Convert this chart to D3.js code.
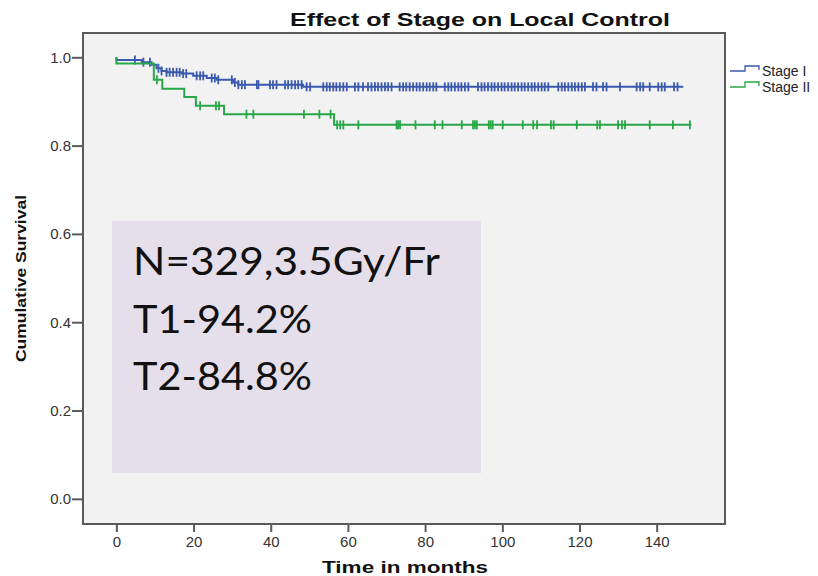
<!DOCTYPE html>
<html>
<head>
<meta charset="utf-8">
<script src="https://cdn.jsdelivr.net/npm/d3@7"></script>
<style>
  body { margin: 0; background: #fff; }
  svg { display: block; }
  .tick text { font-family: "Liberation Sans", Arial, sans-serif; font-size: 15px; fill: #333; }
</style>
</head>
<body>
<svg id="chart" width="818" height="576"></svg>
<script>
// Kaplan-Meier steps: [time (months), survival after event]
const stage1Events = [[0, 0.994], [6.6, 0.989], [9.1, 0.983], [10.4, 0.975], [11.7, 0.969], [13, 0.966],
  [16.9, 0.963], [19.9, 0.958], [23.4, 0.953], [26, 0.949], [30.3, 0.943], [31.6, 0.938], [48.4, 0.933]];
const stage1End = 146.9;
const stage1Censored = [4.8, 7.0, 8.7, 10.9, 11.7, 13.0, 13.8, 14.7, 15.6, 16.4, 17.3, 18.1, 20.8, 21.7, 22.5,
  24.7, 25.5, 26.4, 29.9, 30.7, 31.6, 32.5, 33.3, 36.4, 36.8, 39.8, 40.6, 41.5, 43.7, 44.5, 45.4, 46.3, 47.1,
  48.0, 49.3, 50.2, 53.6, 54.5, 55.3, 56.2, 57.0, 57.9, 58.8, 59.7, 61.8, 62.7, 63.9, 65.2, 66.1, 67.0, 67.8,
  68.7, 69.6, 70.4, 71.3, 73.4, 74.3, 75.1, 76.0, 76.9, 77.8, 78.6, 79.5, 80.4, 81.2, 82.1, 82.9, 85.1, 86.0,
  86.8, 87.7, 88.6, 89.4, 90.3, 91.2, 93.7, 94.6, 95.4, 96.3, 97.2, 98.0, 98.9, 99.8, 100.6, 101.5, 102.4,
  103.2, 104.1, 105.0, 105.8, 106.7, 107.6, 108.4, 109.3, 110.2, 111.0, 111.9, 114.5, 115.4, 116.2, 117.1,
  118.0, 118.8, 119.7, 120.6, 121.4, 123.5, 124.4, 126.1, 127.0, 130.5, 134.8, 135.7, 136.5, 138.2, 140.4,
  141.3, 142.1, 144.5, 145.4];

const stage2Events = [[0, 0.986], [9.7, 0.949], [11.9, 0.929], [17.6, 0.910], [20.6, 0.890], [27.9, 0.871],
  [56.4, 0.847]];
const stage2End = 149;
const stage2Censored = [10.5, 21.7, 25.8, 26.6, 33.7, 35.5, 48.6, 52.6, 55.5, 57.2, 58.0, 58.8, 62.7, 72.6,
  73.0, 73.5, 77.5, 82.5, 84.5, 89.5, 92.4, 92.9, 93.4, 96.5, 97.0, 97.5, 100.1, 105.3, 108, 109, 112.6, 113.3,
  119.3, 124.6, 125.3, 130, 131, 131.8, 138.2, 144.2, 148.6];

const seriesNames = ['Stage I', 'Stage II'];
const seriesColors = ['#3b5aae', '#27a747'];
const xTicks = [0, 20, 40, 60, 80, 100, 120, 140];
const yTicks = [0.0, 0.2, 0.4, 0.6, 0.8, 1.0];
const noteLines = ['N=329,3.5Gy/Fr', 'T1-94.2%', 'T2-84.8%'];

const series = [
  {name: seriesNames[0], color: seriesColors[0], events: stage1Events, end: stage1End, censored: stage1Censored},
  {name: seriesNames[1], color: seriesColors[1], events: stage2Events, end: stage2End, censored: stage2Censored},
];

const svg = d3.select('#chart');
const plot = {left: 83, top: 33, right: 725, bottom: 524};

const x = d3.scaleLinear().domain([-8.65, 157.7]).range([plot.left, plot.right]);
const y = d3.scaleLinear().domain([-0.057, 1.055]).range([plot.bottom, plot.top]);

// plot background
svg.append('rect')
  .attr('x', plot.left)
  .attr('y', plot.top)
  .attr('width', plot.right - plot.left)
  .attr('height', plot.bottom - plot.top)
  .attr('fill', '#f2f2f2');

// annotation box
const note = svg.append('g').attr('class', 'note');
note.append('rect')
  .attr('x', 112).attr('y', 221)
  .attr('width', 369).attr('height', 252)
  .attr('fill', '#e4dfeb');
note.selectAll('text')
  .data(noteLines)
  .enter()
  .append('text')
    .attr('x', 133)
    .attr('y', (d, i) => 275 + i * 57.5)
    .attr('textLength', (d, i) => i === 0 ? 307 : 179)
    .attr('lengthAdjust', 'spacingAndGlyphs')
    .attr('font-family', 'Lato, "Open Sans", sans-serif')
    .attr('font-size', 39)
    .attr('fill', '#111')
    .text((d) => d);

// survival value at time t for censor marks
function survivalAt(events, t) {
  let s = 1;
  events.forEach(([et, ev]) => { if (et <= t) s = ev; });
  return s;
}

const stepLine = d3.line()
  .x((d) => x(d[0]))
  .y((d) => y(d[1]))
  .curve(d3.curveStepAfter);

series.forEach((s) => {
  const last = s.events[s.events.length - 1][1];
  const pts = [[0, 1], ...s.events, [s.end, last]];
  const g = svg.append('g').attr('class', 'km');

  g.append('path')
    .attr('d', stepLine(pts))
    .attr('fill', 'none')
    .attr('stroke', s.color)
    .attr('stroke-width', 2);

  g.selectAll('line')
    .data(s.censored)
    .enter()
    .append('line')
      .attr('x1', (d) => x(d))
      .attr('x2', (d) => x(d))
      .attr('y1', (d) => y(survivalAt(s.events, d)) - 4.5)
      .attr('y2', (d) => y(survivalAt(s.events, d)) + 4.5)
      .attr('stroke', s.color)
      .attr('stroke-width', 1.8);
});

// frame
svg.append('rect')
  .attr('x', plot.left)
  .attr('y', plot.top)
  .attr('width', plot.right - plot.left)
  .attr('height', plot.bottom - plot.top)
  .attr('fill', 'none')
  .attr('stroke', '#5a5a5a')
  .attr('stroke-width', 2);

// axes
const yAxis = svg.append('g')
  .attr('transform', `translate(${plot.left},0)`)
  .call(d3.axisLeft(y).tickValues(yTicks).tickFormat(d3.format('.1f')).tickSize(11).tickPadding(1));
const xAxis = svg.append('g')
  .attr('transform', `translate(0,${plot.bottom})`)
  .call(d3.axisBottom(x).tickValues(xTicks).tickSize(8).tickPadding(4));

[yAxis, xAxis].forEach((ax) => {
  ax.select('.domain').remove();
  ax.selectAll('.tick line').attr('stroke', '#5a5a5a').attr('stroke-width', 2);
});

// titles
svg.append('text')
  .attr('x', 290).attr('y', 26)
  .attr('textLength', 380)
  .attr('lengthAdjust', 'spacingAndGlyphs')
  .attr('font-family', '"Liberation Sans", Arial, sans-serif')
  .attr('font-weight', 'bold')
  .attr('font-size', 18)
  .attr('fill', '#111')
  .text('Effect of Stage on Local Control');

svg.append('text')
  .attr('x', 322).attr('y', 573)
  .attr('textLength', 166)
  .attr('lengthAdjust', 'spacingAndGlyphs')
  .attr('font-family', '"Liberation Sans", Arial, sans-serif')
  .attr('font-weight', 'bold')
  .attr('font-size', 16)
  .attr('fill', '#111')
  .text('Time in months');

svg.append('text')
  .attr('transform', 'translate(26,362) rotate(-90)')
  .attr('textLength', 167)
  .attr('lengthAdjust', 'spacingAndGlyphs')
  .attr('font-family', '"Liberation Sans", Arial, sans-serif')
  .attr('font-weight', 'bold')
  .attr('font-size', 15)
  .attr('fill', '#111')
  .text('Cumulative Survival');

// legend
const legend = svg.append('g').attr('class', 'legend');
const legendItems = legend.selectAll('g')
  .data(series)
  .enter()
  .append('g')
    .attr('transform', (d, i) => `translate(730,${71 + i * 16})`);

legendItems.append('path')
  .attr('d', 'M0,0 H15 V-5 H29 V-1')
  .attr('fill', 'none')
  .attr('stroke', (d) => d.color)
  .attr('stroke-width', 1.3);

legendItems.append('text')
  .attr('x', 32)
  .attr('y', 5)
  .attr('font-family', '"Liberation Sans", Arial, sans-serif')
  .attr('font-size', 14)
  .attr('fill', '#222')
  .text((d) => d.name);
</script>
</body>
</html>
